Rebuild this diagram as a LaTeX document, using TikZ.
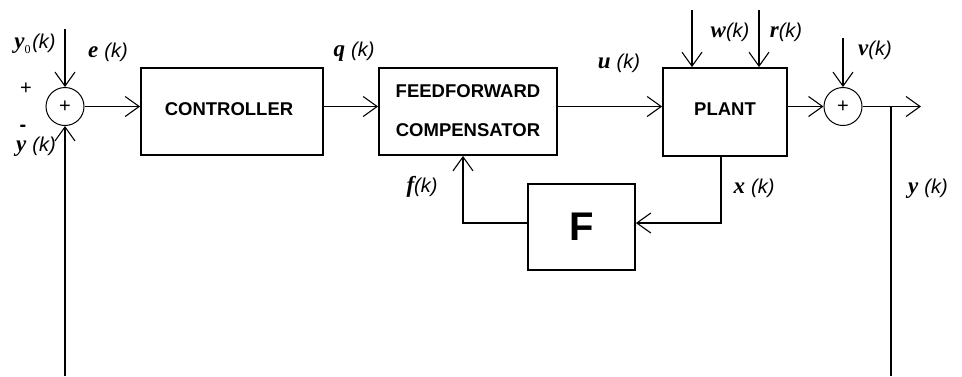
\documentclass[tikz,border=0pt]{standalone}
\usepackage{fontspec}
\setmainfont{Liberation Serif}
\setsansfont{Liberation Sans}
\usetikzlibrary{arrows.meta}
\newcommand\vlab[2]{{\fontsize{23}{23}\selectfont\bfseries\itshape #1}#2{\sffamily\itshape\fontsize{20}{20}\selectfont (k)}}
\begin{document}
\begin{tikzpicture}[x=1pt,y=-1pt,
  blk/.style={draw,line width=1.8pt,inner sep=0pt,font=\sffamily\bfseries\fontsize{18.5}{18.5}\selectfont},
  btxt/.style={inner sep=0pt,font=\sffamily\bfseries\fontsize{18.5}{18.5}\selectfont},
  sumc/.style={draw,circle,line width=1pt,minimum size=38pt,inner sep=0pt,font=\sffamily\fontsize{20}{20}\selectfont},
  conn/.style={line width=1.1pt},
  arr/.style={conn,-{Straight Barb[length=14pt,width=20pt,line width=1.1pt]}},
  lab/.style={inner sep=0pt}]
\useasboundingbox (0,0) rectangle (962,376);
% blocks
\node[sumc] (s1) at (65,106.5) {+};
\node[blk,minimum width=182pt,minimum height=87pt] (ctrl) at (232,111.5) {};
\node[btxt] (ctrlt) at (229,109) {CONTROLLER};
\node[blk,minimum width=178pt,minimum height=87pt] (ff) at (468,111.5) {};
\node[btxt] (fft1) at (468,91) {FEEDFORWARD};
\node[btxt] (fft2) at (468,130) {COMPENSATOR};
\node[blk,minimum width=124pt,minimum height=88pt] (plant) at (725,112) {};
\node[btxt] (plantt) at (725,109) {PLANT};
\node[sumc] (s2) at (843,106.5) {+};
\node[blk,minimum width=107pt,minimum height=86pt,font=\sffamily\bfseries\fontsize{40}{40}\selectfont] (F) at (581.5,227) {F};
% free ends
\coordinate (y0top) at (65,29);
\coordinate (lbot) at (65,376);
\coordinate (wtop) at (692,10);
\coordinate (rtop) at (759,10);
\coordinate (vtop) at (843,38);
\coordinate (out) at (921,106.5);
\coordinate (tap) at (891,106.5);
\coordinate (rbot) at (891,376);
% connectors
\draw[arr] (y0top) -- (s1.north);
\draw[arr] (lbot) -- (s1.south);
\draw[arr] (s1.east) -- (s1.east -| ctrl.west);
\draw[arr] (ctrl.east |- s1.east) -- (ff.west |- s1.east);
\draw[arr] (ff.east |- s2.west) -- (plant.west |- s2.west);
\draw[arr] (plant.east |- s2.west) -- (s2.west);
\draw[arr] (wtop) -- (wtop |- plant.north);
\draw[arr] (rtop) -- (rtop |- plant.north);
\draw[arr] (vtop) -- (s2.north);
\draw[arr] (s2.east) -- (out);
\draw[conn] (tap) -- (rbot);
\draw[arr] ([xshift=-4pt]plant.south) |- ([yshift=4pt]F.east);
\draw[arr] ([yshift=4pt]F.west) -| ([xshift=-5pt]ff.south);
% labels
\node[lab] (ly0) at (35,44) {{\fontsize{23}{23}\selectfont\bfseries\itshape y}\raisebox{-5pt}{\fontsize{12}{12}\selectfont 0}\,{\sffamily\itshape\fontsize{20}{20}\selectfont (k)}};
\node[lab] (le) at (108,52) {\vlab{e}{\hspace{6pt}}};
\node[lab,font=\sffamily\fontsize{20}{20}\selectfont] (lplus) at (26,89) {+};
\node[lab,font=\sffamily\bfseries\fontsize{20}{20}\selectfont] (lminus) at (23,128) {-};
\node[lab] (lyl) at (36,147) {\vlab{y}{\hspace{6pt}}};
\node[lab] (lq) at (354,52) {\vlab{q}{\hspace{6pt}}};
\node[lab] (lu) at (619,63) {\vlab{u}{\hspace{6pt}}};
\node[lab] (lw) at (730,32) {\vlab{w}{}};
\node[lab] (lr) at (786,32) {\vlab{r}{}};
\node[lab] (lv) at (875,50) {\vlab{v}{}};
\node[lab] (lf) at (422,187) {\vlab{f}{}};
\node[lab] (lx) at (754,188) {\vlab{x}{\hspace{6pt}}};
\node[lab] (lyr) at (928,189) {\vlab{y}{\hspace{6pt}}};
\end{tikzpicture}
\end{document}
